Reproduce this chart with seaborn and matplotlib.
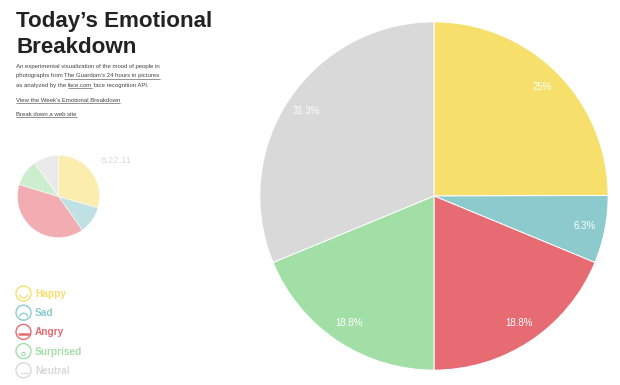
import numpy as np
import matplotlib.pyplot as plt
import seaborn as sns
from matplotlib.patches import Arc, Circle

EMOTIONS = ["Happy", "Sad", "Angry", "Surprised", "Neutral"]
COLORS = ["#F6DF6B", "#8CCACE", "#E76B72", "#A2DFA7", "#D9D9D9"]
TODAY = [25, 6.3, 18.8, 18.8, 31.3]
PAST_DAY = [29.5, 10.7, 39.5, 10.5, 9.8]
PAST_DATE = "8.22.11"

W, H = 620, 385

sns.set_theme(style="white")
plt.rcParams["font.family"] = ["Liberation Sans", "DejaVu Sans"]
palette = sns.color_palette(COLORS)


def axes_at(fig, cx, cy, r):
    return fig.add_axes([(cx - r) / W, 1 - (cy + r) / H, 2 * r / W, 2 * r / H])


def write_line(ax, x, y, parts, size=4.35, color="#444444"):
    # parts are (text, underlined); each part starts where the last one ended
    rend = ax.figure.canvas.get_renderer()
    inv = ax.transData.inverted()
    for txt, under in parts:
        t = ax.text(x, y, txt, fontsize=size, color=color, va="baseline", ha="left")
        box = t.get_window_extent(rend)
        x1 = inv.transform((box.x1, box.y0))[0]
        if under:
            ax.plot([x, x1], [y + 1.3, y + 1.3], color=color, lw=0.4)
        x = x1


def draw_face(ax, cx, cy, color, mood):
    r = 7.5
    ax.add_patch(Circle((cx, cy), r, fill=False, ec=color, lw=1.0))
    if mood == "Happy":
        ax.add_patch(Arc((cx, cy + 1), 8, 7, theta1=0, theta2=180, ec=color, lw=0.9))
    elif mood == "Sad":
        ax.add_patch(Arc((cx, cy + 4), 8, 7, theta1=180, theta2=360, ec=color, lw=0.9))
    elif mood == "Angry":
        ax.plot([cx - 5, cx + 5], [cy + 2.5, cy + 2.5], color=color, lw=1.8)
    elif mood == "Surprised":
        ax.add_patch(Circle((cx, cy + 3), 1.7, fill=False, ec=color, lw=0.8))
    else:
        ax.plot([cx - 3, cx + 3], [cy + 3, cy + 3], color=color, lw=0.8)


fig = plt.figure(figsize=(W / 100, H / 100), dpi=100)

# big pie
ax_big = axes_at(fig, 434, 196, 175)
_, _, pct = ax_big.pie(TODAY, colors=palette, startangle=90, counterclock=False, radius=1,
                       wedgeprops={"edgecolor": "white", "linewidth": 0.7},
                       autopct="%.1f%%", pctdistance=0.88,
                       textprops={"color": "white", "fontsize": 7})
for t, v in zip(pct, TODAY):
    t.set_text(f"{v:g}%")
ax_big.set_xlim(-1.005, 1.005)
ax_big.set_ylim(-1.005, 1.005)

# small pie, same colours but washed out
ax_small = axes_at(fig, 58.5, 196.5, 42)
ax_small.pie(PAST_DAY, colors=palette, startangle=90, counterclock=False,
             wedgeprops={"edgecolor": "white", "linewidth": 0.7, "alpha": 0.55})
ax_small.set_xlim(-1.02, 1.02)
ax_small.set_ylim(-1.02, 1.02)

# text layer in pixel coordinates
ax = fig.add_axes([0, 0, 1, 1], facecolor="none")
ax.set_xlim(0, W)
ax.set_ylim(H, 0)
ax.axis("off")
fig.canvas.draw()

ax.text(16, 27, "Today\u2019s Emotional", fontsize=16.1, fontweight="bold", color="#222222")
ax.text(16, 53, "Breakdown", fontsize=16.1, fontweight="bold", color="#222222")

write_line(ax, 16, 68, [("An experimental visualization of the mood of people in", False)])
write_line(ax, 16, 77.5, [("photographs from ", False), ("The Guardian\u2019s 24 hours in pictures", True)])
write_line(ax, 16, 87, [("as analyzed by the ", False), ("face.com", True), (" face recognition API.", False)])
write_line(ax, 16, 101.5, [("View the Week\u2019s Emotional Breakdown", True)])
write_line(ax, 16, 116, [("Break down a web site", True)])

ax.text(101, 163, PAST_DATE, fontsize=6.8, color="#DADADA")

for i, (name, c) in enumerate(zip(EMOTIONS, COLORS)):
    y = 293.5 + i * 19.2
    draw_face(ax, 23.5, y, c, name)
    ax.text(35, y + 3.5, name, fontsize=7.3, fontweight="bold", color=c)

plt.savefig("out.png", dpi=100)
